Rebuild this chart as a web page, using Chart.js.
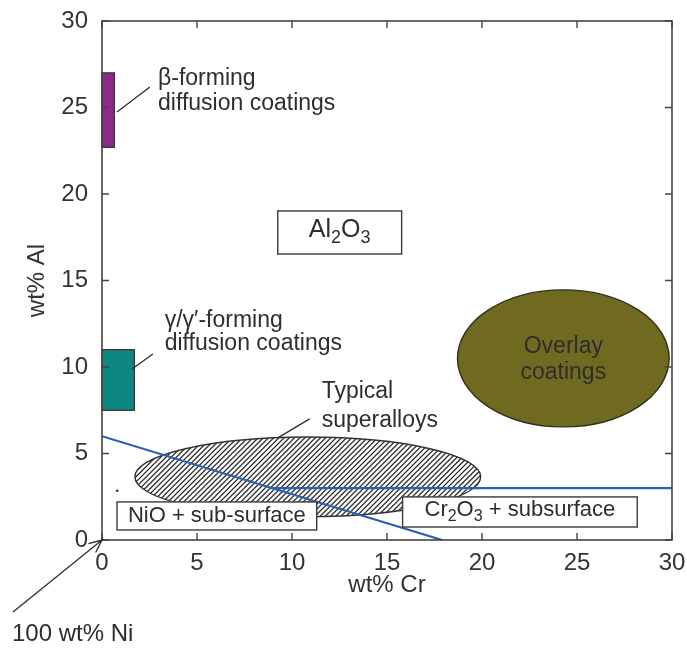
<!DOCTYPE html>
<html>
<head>
<meta charset="utf-8">
<script src="https://cdn.jsdelivr.net/npm/chart.js@4/dist/chart.umd.min.js"></script>
<style>
  html, body { margin: 0; padding: 0; background: #ffffff; }
  #wrap { width: 687px; height: 648px; }
</style>
</head>
<body>
<div id="wrap"><canvas id="oxideMap" width="687" height="648"></canvas></div>
<script>
// Axis ticks (wt%)
const crTicks = [0, 5, 10, 15, 20, 25, 30];
const alTicks = [0, 5, 10, 15, 20, 25, 30];

// Oxide-map boundaries: points as wt% Cr / wt% Al
const niOxideBoundaryCr = [0, 17.9];
const niOxideBoundaryAl = [6.0, 0.0];
const crOxideBoundaryCr = [8.8, 30];
const crOxideBoundaryAl = [3.0, 3.0];

// Diffusion-coating composition windows: [min, max]
const betaCoatingCr = [0, 0.65];
const betaCoatingAl = [22.7, 27.0];
const gammaCoatingCr = [0, 1.7];
const gammaCoatingAl = [7.5, 11.0];

// Elliptical composition regions: [centre Cr, centre Al, half-range Cr, half-range Al]
const superalloyRegion = [10.83, 3.65, 9.1, 2.3];
const overlayRegion = [24.28, 10.5, 5.57, 3.96];

// Oxide field label boxes: [Cr from, Cr to, Al from, Al to]
const al2o3Box = [9.25, 15.77, 16.53, 19.02];
const nioBox = [0.79, 11.3, 0.58, 2.2];
const cr2o3Box = [15.82, 28.17, 0.75, 2.49];

// Small stray mark near the Al axis
const markCr = [0.8];
const markAl = [2.85];

const FONT = '"Liberation Sans", Arial, Helvetica, sans-serif';
const INK = '#2e2e2e';

// Annotation placement, anchored in data units
const notes = {
  beta:   { x: 2.95, lines: [26.65, 25.2], text: ['β-forming', 'diffusion coatings'], leader: [0.79, 24.74, 2.52, 26.18] },
  gamma:  { x: 3.3,  lines: [12.65, 11.35], text: ['γ/γ′-forming', 'diffusion coatings'], leader: [1.58, 9.88, 2.68, 10.75] },
  alloys: { x: 11.56, lines: [8.55, 6.9], text: ['Typical', 'superalloys'], leader: [9.25, 5.9, 10.93, 7.0] },
  overlay:{ x: 24.28, lines: [11.2, 9.65], text: ['Overlay', 'coatings'] }
};

const pts = (xs, ys) => xs.map((x, i) => ({ x: x, y: ys[i] }));

function richText(ctx, parts, x, y, size, align) {
  const subSize = Math.round(size * 0.72);
  let total = 0;
  parts.forEach(p => {
    ctx.font = (p.sub ? subSize : size) + 'px ' + FONT;
    p.w = ctx.measureText(p.t).width;
    total += p.w;
  });
  let cx = align === 'center' ? x - total / 2 : x;
  ctx.textAlign = 'left';
  ctx.textBaseline = 'middle';
  parts.forEach(p => {
    ctx.font = (p.sub ? subSize : size) + 'px ' + FONT;
    ctx.fillText(p.t, cx, p.sub ? y + size * 0.3 : y);
    cx += p.w;
  });
}

const mapDrawing = {
  id: 'mapDrawing',
  beforeDatasetsDraw(chart) {
    const { ctx, scales: { x, y } } = chart;
    const X = v => x.getPixelForValue(v);
    const Y = v => y.getPixelForValue(v);
    ctx.save();

    // coating windows
    const rect = (cr, al, fill) => {
      const x0 = X(cr[0]), x1 = X(cr[1]), y0 = Y(al[1]), y1 = Y(al[0]);
      ctx.fillStyle = fill;
      ctx.fillRect(x0, y0, x1 - x0, y1 - y0);
      ctx.lineWidth = 1.4;
      ctx.strokeStyle = '#3a3a3a';
      ctx.strokeRect(x0, y0, x1 - x0, y1 - y0);
    };
    rect(betaCoatingCr, betaCoatingAl, '#8c2a8c');
    rect(gammaCoatingCr, gammaCoatingAl, '#0d8782');

    // overlay coatings
    {
      const [c, a, rc, ra] = overlayRegion;
      const cx = X(c), cy = Y(a), rx = X(c + rc) - cx, ry = cy - Y(a + ra);
      ctx.beginPath();
      ctx.ellipse(cx, cy, rx, ry, 0, 0, Math.PI * 2);
      ctx.fillStyle = '#6f6a1f';
      ctx.fill();
      ctx.lineWidth = 1.4;
      ctx.strokeStyle = '#2f2f1a';
      ctx.stroke();
    }

    // superalloys, hatched
    {
      const [c, a, rc, ra] = superalloyRegion;
      const cx = X(c), cy = Y(a), rx = X(c + rc) - cx, ry = cy - Y(a + ra);
      ctx.save();
      ctx.beginPath();
      ctx.ellipse(cx, cy, rx, ry, 0, 0, Math.PI * 2);
      ctx.fillStyle = '#ffffff';
      ctx.fill();
      ctx.clip();
      ctx.beginPath();
      const top = cy - ry - 2, bot = cy + ry + 2, h = bot - top;
      for (let k = cx - rx - h - 4; k < cx + rx + 4; k += 5.2) {
        ctx.moveTo(k, bot);
        ctx.lineTo(k + h, top);
      }
      ctx.lineWidth = 1.3;
      ctx.strokeStyle = '#2e2e2e';
      ctx.stroke();
      ctx.restore();
      ctx.beginPath();
      ctx.ellipse(cx, cy, rx, ry, 0, 0, Math.PI * 2);
      ctx.lineWidth = 1.4;
      ctx.strokeStyle = '#333333';
      ctx.stroke();
    }
    ctx.restore();
  },
  afterDatasetsDraw(chart) {
    const { ctx, chartArea: ca, scales: { x, y } } = chart;
    const X = v => x.getPixelForValue(v);
    const Y = v => y.getPixelForValue(v);
    ctx.save();

    // oxide labels in boxes
    const box = (b) => {
      const x0 = X(b[0]), x1 = X(b[1]), y0 = Y(b[3]), y1 = Y(b[2]);
      ctx.fillStyle = '#ffffff';
      ctx.fillRect(x0, y0, x1 - x0, y1 - y0);
      ctx.lineWidth = 1.4;
      ctx.strokeStyle = '#3a3a3a';
      ctx.strokeRect(x0, y0, x1 - x0, y1 - y0);
      return [(x0 + x1) / 2, (y0 + y1) / 2];
    };
    let m = box(al2o3Box);
    ctx.fillStyle = INK;
    richText(ctx, [{ t: 'Al' }, { t: '2', sub: true }, { t: 'O' }, { t: '3', sub: true }], m[0], m[1] - 2, 25, 'center');
    m = box(nioBox);
    ctx.fillStyle = INK;
    richText(ctx, [{ t: 'NiO + sub-surface' }], m[0], m[1], 22, 'center');
    m = box(cr2o3Box);
    ctx.fillStyle = INK;
    richText(ctx, [{ t: 'Cr' }, { t: '2', sub: true }, { t: 'O' }, { t: '3', sub: true }, { t: ' + subsurface' }], m[0], m[1] - 2, 22, 'center');

    // annotations and leader lines
    Object.values(notes).forEach(n => {
      ctx.fillStyle = INK;
      ctx.font = '23px ' + FONT;
      ctx.textBaseline = 'middle';
      ctx.textAlign = n.leader ? 'left' : 'center';
      n.text.forEach((t, i) => ctx.fillText(t, X(n.x), Y(n.lines[i])));
      if (n.leader) {
        const l = n.leader;
        ctx.beginPath();
        ctx.moveTo(X(l[0]), Y(l[1]));
        ctx.lineTo(X(l[2]), Y(l[3]));
        ctx.lineWidth = 1.3;
        ctx.strokeStyle = '#2e2e2e';
        ctx.stroke();
      }
    });

    // frame and inward ticks on all four sides
    ctx.lineWidth = 1.6;
    ctx.strokeStyle = '#444444';
    ctx.strokeRect(ca.left, ca.top, ca.right - ca.left, ca.bottom - ca.top);
    const tl = 7;
    ctx.beginPath();
    x.ticks.forEach((t, i) => {
      const px = x.getPixelForTick(i);
      ctx.moveTo(px, ca.bottom); ctx.lineTo(px, ca.bottom - tl);
      ctx.moveTo(px, ca.top); ctx.lineTo(px, ca.top + tl);
    });
    y.ticks.forEach((t, i) => {
      const py = y.getPixelForTick(i);
      ctx.moveTo(ca.left, py); ctx.lineTo(ca.left + tl, py);
      ctx.moveTo(ca.right, py); ctx.lineTo(ca.right - tl, py);
    });
    ctx.lineWidth = 1.4;
    ctx.stroke();

    // pure nickel corner pointer
    const ox = X(0), oy = Y(0);
    const sx = 13, sy = 612;
    const ang = Math.atan2(oy - sy, ox - sx);
    ctx.beginPath();
    ctx.moveTo(sx, sy);
    ctx.lineTo(ox, oy);
    ctx.moveTo(ox - 14 * Math.cos(ang - 0.42), oy - 14 * Math.sin(ang - 0.42));
    ctx.lineTo(ox, oy);
    ctx.lineTo(ox - 14 * Math.cos(ang + 0.42), oy - 14 * Math.sin(ang + 0.42));
    ctx.lineWidth = 1.3;
    ctx.strokeStyle = '#2e2e2e';
    ctx.stroke();
    ctx.fillStyle = INK;
    ctx.font = '24px ' + FONT;
    ctx.textAlign = 'left';
    ctx.textBaseline = 'middle';
    ctx.fillText('100 wt% Ni', 12, 634);
    ctx.restore();
  }
};

new Chart(document.getElementById('oxideMap'), {
  type: 'scatter',
  data: {
    datasets: [
      {
        data: pts(niOxideBoundaryCr, niOxideBoundaryAl),
        showLine: true, borderColor: '#2d5fae', borderWidth: 2.2, pointRadius: 0, fill: false
      },
      {
        data: pts(crOxideBoundaryCr, crOxideBoundaryAl),
        showLine: true, borderColor: '#2d5fae', borderWidth: 2.2, pointRadius: 0, fill: false
      },
      {
        data: pts(markCr, markAl),
        pointRadius: 1.3, backgroundColor: '#333333', borderWidth: 0
      }
    ]
  },
  options: {
    responsive: false,
    animation: false,
    events: [],
    layout: { padding: { left: 0, right: 15, top: 21, bottom: 48 } },
    plugins: { legend: { display: false }, tooltip: { enabled: false } },
    scales: {
      x: {
        type: 'linear', min: 0, max: 30,
        afterBuildTicks: s => { s.ticks = crTicks.map(v => ({ value: v })); },
        afterFit: s => { s.height = 60; s.paddingLeft = 0; s.paddingRight = 0; },
        grid: { display: false, drawTicks: false },
        border: { display: false },
        ticks: { padding: 9, color: '#333333', font: { family: FONT, size: 24 } },
        title: { display: true, text: 'wt% Cr', color: '#333333', font: { family: FONT, size: 24 }, padding: { top: 0, bottom: 0 } }
      },
      y: {
        type: 'linear', min: 0, max: 30,
        afterBuildTicks: s => { s.ticks = alTicks.map(v => ({ value: v })); },
        afterFit: s => { s.width = 102; s.paddingTop = 0; s.paddingBottom = 0; },
        grid: { display: false, drawTicks: false },
        border: { display: false },
        ticks: { padding: 14, color: '#333333', font: { family: FONT, size: 24 } },
        title: { display: true, text: 'wt% Al', color: '#333333', font: { family: FONT, size: 24 }, padding: { top: 23, bottom: 0 } }
      }
    }
  },
  plugins: [mapDrawing]
});
</script>
</body>
</html>
